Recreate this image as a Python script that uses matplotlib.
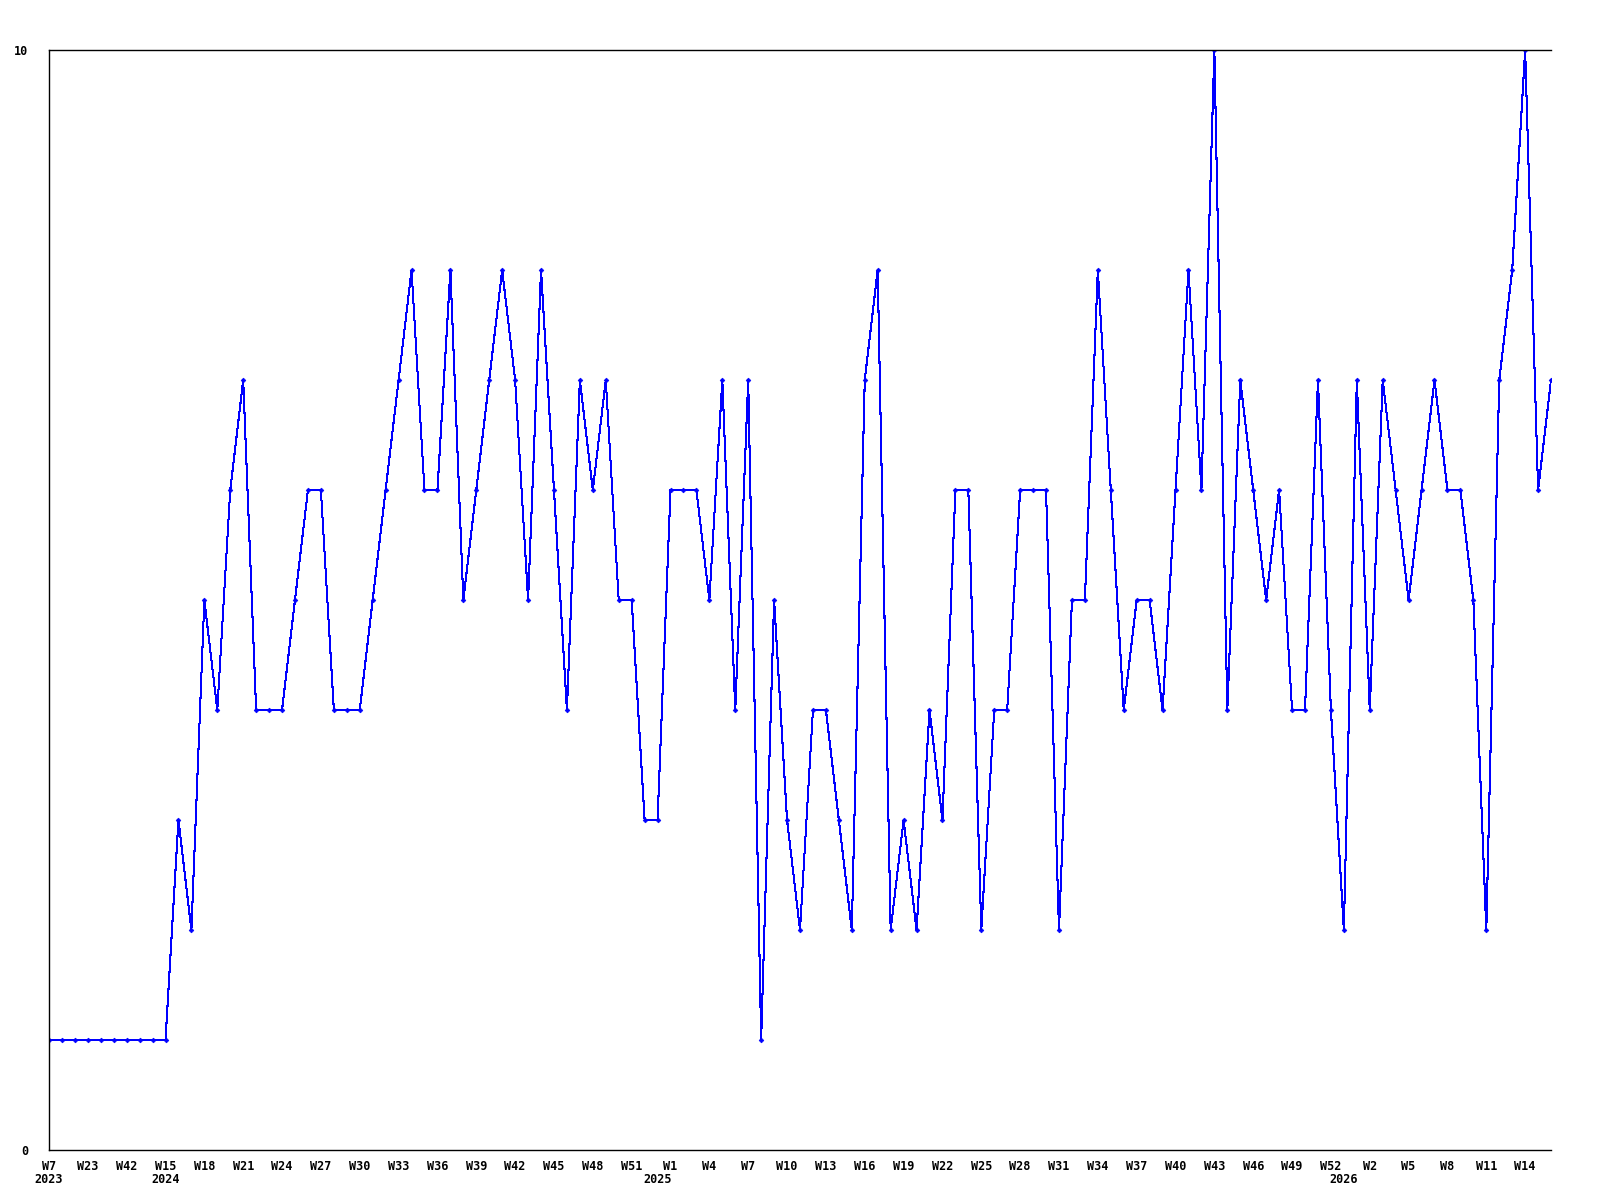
import matplotlib
matplotlib.use('Agg')
import matplotlib.pyplot as plt
import matplotlib.transforms as mtransforms

# weekly counts, one value per point (left to right)
values = [1, 1, 1, 1, 1, 1, 1, 1, 1, 1,
          3, 2, 5, 4, 6, 7, 4, 4, 4, 5,
          6, 6, 4, 4, 4, 5, 6, 7, 8, 6,
          6, 8, 5, 6, 7, 8, 7, 5, 8, 6,
          4, 7, 6, 7, 5, 5, 3, 3, 6, 6,
          6, 5, 7, 4, 7, 1, 5, 3, 2, 4,
          4, 3, 2, 7, 8, 2, 3, 2, 4, 3,
          6, 6, 2, 4, 4, 6, 6, 6, 2, 5,
          5, 8, 6, 4, 5, 5, 4, 6, 8, 6,
          10, 4, 7, 6, 5, 6, 4, 4, 7, 4,
          2, 7, 4, 7, 6, 5, 6, 7, 6, 6,
          5, 2, 7, 8, 10, 6, 7]

# one label every third point
week_labels = ['W7', 'W23', 'W42', 'W15', 'W18', 'W21', 'W24', 'W27', 'W30',
               'W33', 'W36', 'W39', 'W42', 'W45', 'W48', 'W51', 'W1', 'W4',
               'W7', 'W10', 'W13', 'W16', 'W19', 'W22', 'W25', 'W28', 'W31',
               'W34', 'W37', 'W40', 'W43', 'W46', 'W49', 'W52', 'W2', 'W5',
               'W8', 'W11', 'W14']
years = ['2023', '2024', '2025', '2026']
year_start = [0, 9, 47, 100]

x = list(range(len(values)))
tick_pos = x[::3][:len(week_labels)]

fnt = {'family': 'DejaVu Sans Mono', 'weight': 'bold', 'size': 8.5}

fig = plt.figure(figsize=(16, 12), dpi=100)
ax = fig.add_axes([0.0306, 0.0417, 0.9388, 0.9166])

ax.plot(x, values, color='#0000ff', lw=0.75, marker='D', ms=2.4,
        mfc='#0000ff', mec='#0000ff', mew=0.5, antialiased=False)

ax.set_xlim(0, len(values) - 1)
ax.set_ylim(0, 10)
ax.set_yticks([0, 10])
ax.set_yticklabels(['0', '10'], fontdict=fnt)
ax.set_xticks(tick_pos)
ax.set_xticklabels(week_labels, fontdict=fnt)
ax.tick_params(axis='both', length=0)
ax.tick_params(axis='x', pad=7)
ax.tick_params(axis='y', pad=15)

ax.spines['right'].set_visible(False)
for s in ['left', 'bottom', 'top']:
    ax.spines[s].set_linewidth(1.0)
    ax.spines[s].set_color('black')

trans = mtransforms.blended_transform_factory(ax.transData, ax.transAxes)
for yr, pos in zip(years, year_start):
    ax.text(pos, -0.027, yr, transform=trans, ha='center', va='center', fontdict=fnt)

fig.savefig('out.png', dpi=100)
